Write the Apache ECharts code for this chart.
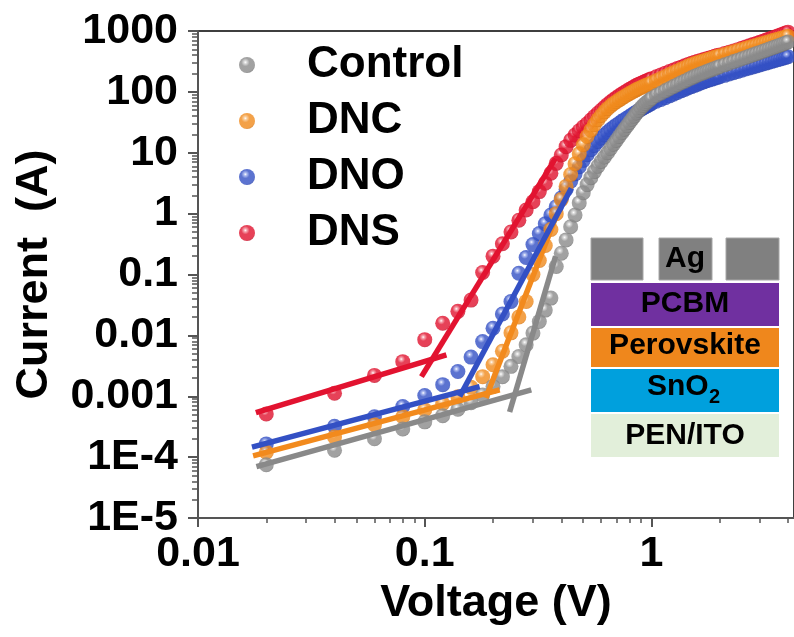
<!DOCTYPE html>
<html><head><meta charset="utf-8">
<script src="https://cdn.jsdelivr.net/npm/echarts@6/dist/echarts.min.js"></script>
<style>html,body{margin:0;padding:0;background:#fff}#c{width:794px;height:637px}</style>
</head><body><div id="c"></div>
<script>
// ---------- data ----------
const voltages = [0.02,0.04,0.06,0.08,0.10,0.12,0.14,0.16,0.18,0.20,
0.22,0.24,0.26,0.28,0.30,0.32,0.34,0.36,0.38,0.40,
0.42,0.44,0.46,0.48,0.50,0.52,0.54,0.56,0.58,0.60,
0.62,0.64,0.66,0.68,0.70,0.72,0.74,0.76,0.78,0.80,
0.82,0.84,0.86,0.88,0.90,0.92,0.94,0.96,0.98,1.00,
1.05,1.10,1.15,1.20,1.25,1.30,1.35,1.40,1.45,1.50,
1.55,1.60,1.65,1.70,1.75,1.80,1.85,1.90,1.95,2.00,
2.1,2.2,2.3,2.4,2.5,2.6,2.7,2.8,2.9,3.0,
3.1,3.2,3.3,3.4,3.5,3.6,3.7,3.8,3.9,4.0];

const control = [7.5e-5,1.3e-4,2.0e-4,2.9e-4,3.8e-4,4.8e-4,6.1e-4,7.8e-4,1.05e-3,1.45e-3,
2.1e-3,3.1e-3,4.5e-3,7.0e-3,0.0109,0.0169,0.026,0.041,0.135,0.224,
0.37,0.61,0.95,1.5,2.2,3.0,3.9,4.9,6.0,7.2,
8.5,10,11.8,13.8,16,18.5,21.3,24.4,27.8,31.5,
35.5,40,45,50,55,60,64.5,69,73.5,78,
87,95,104,113,122,131,141,150,160,170,
180,189,198,207,216,225,234,243,252,261,
278,296,314,332,350,368,387,406,425,445,
465,485,505,526,547,568,590,612,635,658];

const dnc = [1.2e-4,2.15e-4,3.4e-4,4.6e-4,6.0e-4,7.6e-4,9.8e-4,1.4e-3,2.1e-3,3.3e-3,
5.5e-3,0.011,0.02,0.036,0.1,0.17,0.3,0.55,1.0,1.7,
2.8,4.4,6.6,9.6,13.5,18.5,23.5,29,35,41,
47,53,58.5,64,69,74,79,84,89,94,
99,104,109,114,118,122,127,131,135,140,
153,166,179,193,207,221,235,250,266,280,
292,304,315,326,337,348,359,370,381,392,
413,434,455,477,498,519,540,561,582,603,
624,645,667,689,711,733,755,777,800,823];

const dno = [1.65e-4,3.2e-4,4.6e-4,6.8e-4,1.03e-3,1.55e-3,2.55e-3,4.4e-3,7.9e-3,0.0131,
0.0225,0.036,0.105,0.19,0.31,0.47,0.68,0.95,1.3,1.8,
2.5,3.4,4.5,5.9,7.5,9.3,11.2,13.2,15.3,17.4,
19.6,21.8,24,26.2,28.4,30.6,32.8,35,37.2,39.5,
42,44.5,47,49.5,52,54.5,57,59.5,62,64.5,
70,75,80,86,92,98,104,110,116,122,
128,134,140,146,152,157,162,167,172,177,
187,197,207,217,227,237,247,257,267,277,
287,297,307,317,327,337,347,357,367,377];

const dns = [5.1e-4,1.12e-3,2.2e-3,3.7e-3,8.5e-3,0.0158,0.0248,0.038,0.108,0.2,
0.32,0.5,0.78,1.15,1.57,2.3,3.15,4.6,6.7,9.2,
12.6,16,19.5,23,26.5,30,34.5,39.5,44.5,50,
56,62,68,74,80,86,92,98,104,110,
116,122,128,134,139,144,149,154,159,164,
177,190,203,216,229,242,255,268,282,295,
306,317,328,339,350,361,372,383,394,405,
427,449,471,494,520,546,572,598,624,651,
680,709,738,768,798,829,860,892,925,958];

// fitted lines: [ohmic segment, trap-filling segment], each [[V,I],[V,I]]
const fitControl = [[[0.0181,7.0e-5],[0.295,1.27e-3]], [[0.2367,5.5e-4],[0.3775,0.20]]];
const fitDNC     = [[[0.0175,1.05e-4],[0.214,1.27e-3]], [[0.186,9.4e-4],[0.3815,0.953]]];
const fitDNO     = [[[0.0173,1.46e-4],[0.1746,1.44e-3]], [[0.1426,9.9e-4],[0.443,2.61]]];
const fitDNS     = [[[0.018,5.4e-4],[0.1246,4.8e-3]], [[0.0967,2.1e-3],[0.377,8.1]]];

const seriesNames = ['Control','DNC','DNO','DNS'];
const xMajorTicks = [0.01, 0.1, 1];
const xTickLabels = ['0.01','0.1','1'];
const yMajorTicks = [1e-5,1e-4,1e-3,1e-2,0.1,1,10,100,1000];
const yTickLabels = ['1E-5','1E-4','0.001','0.01','0.1','1','10','100','1000'];
const layerLabels = ['Ag','PCBM','Perovskite','SnO','PEN/ITO'];

// ---------- helpers ----------
const FONT = '"Liberation Sans", Arial, sans-serif';
function minorTicks(d0, d1, maxV) {
  const out = [];
  for (let d = d0; d <= d1; d++) for (let m = 2; m <= 9; m++) {
    const v = Number((m * Math.pow(10, d)).toPrecision(6));
    if (v <= maxV) out.push(v);
  }
  return out;
}
const xMinor = minorTicks(-2, 0, 4.25);
const yMinor = minorTicks(-5, 2, 1000);
function labelFor(ticks, labels) {
  return function (v) {
    const i = ticks.findIndex(t => Math.abs(Math.log10(t) - Math.log10(v)) < 1e-6);
    return i >= 0 ? labels[i] : '';
  };
}
function sphere(hi, mid, dark) {
  return {type:'radial', x:0.4, y:0.33, r:0.72, colorStops:[
    {offset:0, color:'#ffffff'}, {offset:0.13, color:hi},
    {offset:0.36, color:mid}, {offset:0.82, color:mid}, {offset:1, color:dark}]};
}
const colors = {
  Control: {line:'#898989', s:sphere('#cfcfcf','#8a8a8a','#6a6a6a')},
  DNC: {line:'#f28a1d', s:sphere('#f8c489','#f08a1c','#cf6e0e')},
  DNO: {line:'#3350c4', s:sphere('#9aabec','#3350c4','#243ca4')},
  DNS: {line:'#e21330', s:sphere('#f4909c','#e0122e','#b40c24')}
};
const dataMap = {Control:control, DNC:dnc, DNO:dno, DNS:dns};
const fitMap = {Control:fitControl, DNC:fitDNC, DNO:fitDNO, DNS:fitDNS};

const series = [];
// scatter draw order (bottom -> top)
['DNO','DNS','DNC','Control'].forEach((name, k) => {
  series.push({
    name, type:'scatter', symbol:'circle', symbolSize:15, z:2+k,
    itemStyle:{color:colors[name].s},
    data: voltages.map((v, i) => [v, dataMap[name][i]]),
    xAxisIndex:0, yAxisIndex:0, silent:true
  });
});
['Control','DNC','DNO','DNS'].forEach(name => {
  fitMap[name].forEach(seg => {
    series.push({
      type:'line', symbol:'none', z:10, silent:true,
      lineStyle:{color:colors[name].line, width:5.5},
      data: seg, xAxisIndex:0, yAxisIndex:0
    });
  });
});

const axisCol = '#555';
const labelStyle = {fontFamily:FONT, fontWeight:'bold', fontSize:43, color:'#000'};
const option = {
  animation:false,
  backgroundColor:'#fff',
  grid:{left:198, right:0, top:31, bottom:119, show:true, borderColor:'#000', borderWidth:1.5, backgroundColor:'transparent'},
  legend:{
    data: seriesNames, orient:'vertical', left:234, top:38,
    itemWidth:16, itemHeight:16, itemGap:12, icon:'circle',
    textStyle:{fontFamily:FONT, fontWeight:'bold', fontSize:44, color:'#000', padding:[0,0,0,47]},
    selectedMode:false
  },
  xAxis:[{
    type:'log', logBase:10, min:0.01, max:4.25, position:'bottom',
    axisLine:{show:true, lineStyle:{color:axisCol, width:2}},
    axisTick:{show:true, customValues:xMajorTicks, length:9, lineStyle:{color:axisCol, width:2}},
    axisLabel:Object.assign({customValues:xMajorTicks, formatter:labelFor(xMajorTicks, xTickLabels), margin:15}, labelStyle),
    splitLine:{show:false}, minorTick:{show:false},
    name:'Voltage (V)', nameLocation:'middle', nameGap:62,
    nameTextStyle:{fontFamily:FONT, fontWeight:'bold', fontSize:45, color:'#000'}
  },{
    type:'log', logBase:10, min:0.01, max:4.25, position:'bottom',
    axisLine:{show:false},
    axisTick:{show:true, customValues:xMinor, length:5, lineStyle:{color:axisCol, width:1.5}},
    axisLabel:{show:false}, splitLine:{show:false}
  }],
  yAxis:[{
    type:'log', logBase:10, min:1e-5, max:1000, position:'left',
    axisLine:{show:true, lineStyle:{color:axisCol, width:2}},
    axisTick:{show:true, customValues:yMajorTicks, length:10, lineStyle:{color:axisCol, width:2}},
    axisLabel:Object.assign({customValues:yMajorTicks, formatter:labelFor(yMajorTicks, yTickLabels), margin:20}, labelStyle),
    splitLine:{show:false}, minorTick:{show:false},
    name:'Current  (A)', nameLocation:'middle', nameGap:141,
    nameTextStyle:{fontFamily:FONT, fontWeight:'bold', fontSize:45, color:'#000'}
  },{
    type:'log', logBase:10, min:1e-5, max:1000, position:'left',
    axisLine:{show:false},
    axisTick:{show:true, customValues:yMinor, length:6, lineStyle:{color:axisCol, width:1.5}},
    axisLabel:{show:false}, splitLine:{show:false}
  }],
  series,
  graphic:{elements:[
    {type:'rect', shape:{x:591,y:238,width:52,height:42}, style:{fill:'#808080', stroke:'#a6a6a6', lineWidth:1}, z:20},
    {type:'rect', shape:{x:659,y:238,width:53,height:42}, style:{fill:'#808080', stroke:'#a6a6a6', lineWidth:1}, z:20},
    {type:'rect', shape:{x:726,y:238,width:53,height:42}, style:{fill:'#808080', stroke:'#a6a6a6', lineWidth:1}, z:20},
    {type:'rect', shape:{x:591,y:283,width:188,height:43}, style:{fill:'#7030a0'}, z:20},
    {type:'rect', shape:{x:591,y:328,width:188,height:39}, style:{fill:'#ef871c'}, z:20},
    {type:'rect', shape:{x:591,y:369,width:188,height:43}, style:{fill:'#00a0dd'}, z:20},
    {type:'rect', shape:{x:591,y:414,width:188,height:43}, style:{fill:'#e2efda'}, z:20},
    {type:'text', x:685, y:259, z:21, style:{text:layerLabels[0], font:'bold 30px '+FONT, fill:'#000', align:'center', verticalAlign:'middle'}},
    {type:'text', x:685, y:304, z:21, style:{text:layerLabels[1], font:'bold 30px '+FONT, fill:'#000', align:'center', verticalAlign:'middle'}},
    {type:'text', x:685, y:346, z:21, style:{text:layerLabels[2], font:'bold 30px '+FONT, fill:'#000', align:'center', verticalAlign:'middle'}},
    {type:'text', x:647, y:387, z:21, style:{text:layerLabels[3], font:'bold 30px '+FONT, fill:'#000', align:'left', verticalAlign:'middle'}},
    {type:'text', x:709, y:397, z:21, style:{text:'2', font:'bold 20px '+FONT, fill:'#000', align:'left', verticalAlign:'middle'}},
    {type:'text', x:685, y:436, z:21, style:{text:layerLabels[4], font:'bold 30px '+FONT, fill:'#000', align:'center', verticalAlign:'middle'}}
  ]}
};
const chart = echarts.init(document.getElementById('c'), null, {renderer:'canvas'});
chart.setOption(option);
</script>
</body></html>
